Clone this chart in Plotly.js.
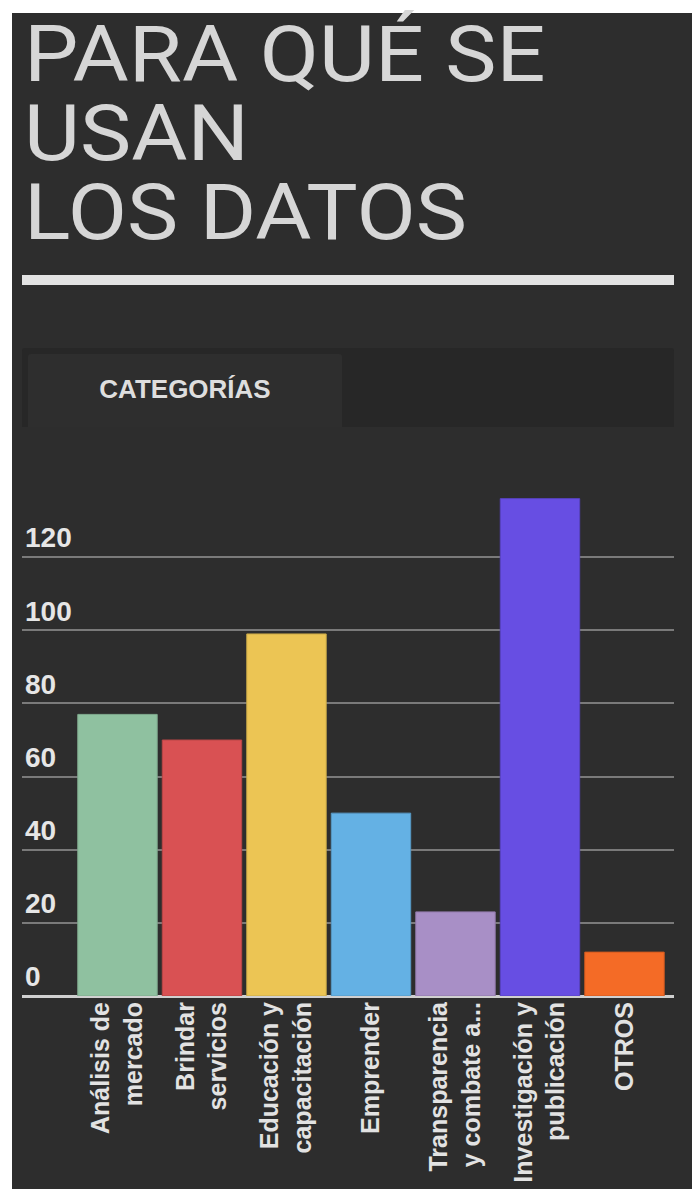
<!DOCTYPE html>
<html>
<head>
<meta charset="utf-8">
<script src="https://cdn.plot.ly/plotly-3.0.1.min.js"></script>
<style>
  html, body { margin: 0; padding: 0; background: #ffffff; width: 692px; height: 1189px; overflow: hidden; }
  #page { position: absolute; left: 12px; top: 13px; width: 680px; height: 1176px; background: #2d2d2d; }
  #chart { position: absolute; left: 12px; top: 13px; width: 680px; height: 1176px; }
  .tl { position: absolute; left: 24px; z-index: 2; font-family: Roboto, "Liberation Sans", sans-serif; font-weight: 400; font-size: 77px; line-height: 77px; color: #d6d6d6; white-space: nowrap; transform: scaleX(1.12); transform-origin: 0 0; }
  #rule { position: absolute; left: 22px; top: 275px; width: 652px; height: 10px; background: #e2e2e2; z-index: 2; }
  #tabs { position: absolute; left: 22px; top: 348px; width: 652px; height: 79px; background: #272727; z-index: 2; border-radius: 3px 3px 0 0; }
  #tab1 { position: absolute; left: 6px; top: 6px; width: 314px; height: 73px; background: #2e2e2e; border-radius: 3px 3px 0 0;
          font-family: "Liberation Sans", Arial, sans-serif; font-weight: bold; font-size: 26px; color: #dedede;
          text-align: center; line-height: 70px; }
</style>
</head>
<body>
<div id="page"></div>
<div id="chart"></div>
<div class="tl" style="top:17px">PARA QUÉ SE</div>
<div class="tl" style="top:96px">USAN</div>
<div class="tl" style="top:175px">LOS DATOS</div>
<div id="rule"></div>
<div id="tabs"><div id="tab1">CATEGORÍAS</div></div>
<script>
const categories = ['Análisis de<br>mercado', 'Brindar<br>servicios', 'Educación y<br>capacitación', 'Emprender', 'Transparencia<br>y combate a...', 'Investigación y<br>publicación', 'OTROS'];
const values = [77, 70, 99, 50, 23, 136, 12];
const barColors = ['#8fc1a0', '#d95153', '#ecc554', '#64b1e4', '#a88fc6', '#674ee3', '#f46b26'];
const lineColors = ['#7fa98d', '#b94647', '#c9a848', '#5798c4', '#9079aa', '#5843c2', '#d05b20'];
const yTicks = [0, 20, 40, 60, 80, 100, 120];

const trace = {
  type: 'bar',
  x: categories,
  y: values,
  marker: { color: barColors, line: { color: lineColors, width: 1 } },
  hoverinfo: 'x+y'
};

const layout = {
  width: 680, height: 1176,
  margin: { l: 10, r: 18, t: 471, b: 193 },
  paper_bgcolor: '#2d2d2d',
  plot_bgcolor: '#2d2d2d',
  showlegend: false,
  bargap: 0.06,
  xaxis: {
    type: 'category',
    range: [-1.13, 6.586],
    tickangle: -90,
    ticks: '',
    showgrid: false,
    showline: false,
    zeroline: false,
    tickfont: { family: '"Liberation Sans", Arial, sans-serif', size: 25, color: '#e2e2e2', weight: 'bold' },
    fixedrange: true
  },
  yaxis: {
    range: [0, 140],
    tickvals: yTicks,
    ticktext: yTicks.map(String),
    ticklabelposition: 'inside top',
    ticks: '',
    showgrid: true,
    gridcolor: '#7a7a7a',
    gridwidth: 2,
    zeroline: true,
    zerolinecolor: '#d0d0d0',
    zerolinewidth: 3,
    showline: false,
    tickfont: { family: '"Liberation Sans", Arial, sans-serif', size: 28, color: '#e6e6e6', weight: 'bold' },
    fixedrange: true
  }
};

Plotly.newPlot('chart', [trace], layout, { displayModeBar: false, staticPlot: true });
</script>
</body>
</html>
